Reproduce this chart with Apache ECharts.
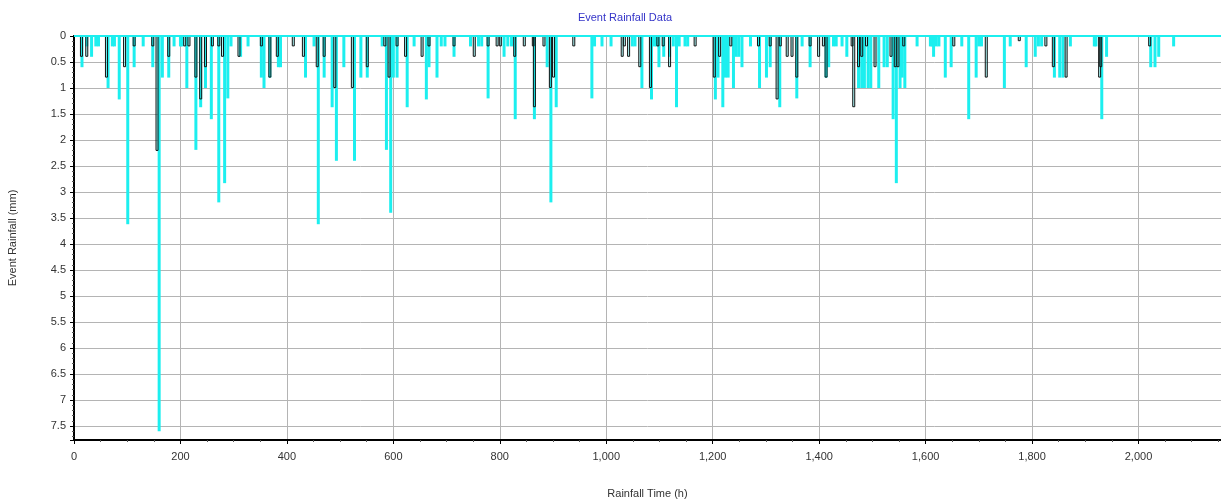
<!DOCTYPE html>
<html>
<head>
<meta charset="utf-8">
<title>Event Rainfall Data</title>
<script src="https://cdn.jsdelivr.net/npm/echarts@6/dist/echarts.min.js"></script>
<style>
  html, body { margin: 0; padding: 0; background: #fff; }
  #chart { width: 1221px; height: 503px; }
</style>
</head>
<body>
<div id="chart"></div>
<script>
// hourly rainfall depth (mm), cyan bars
const rainHours = [15, 24, 33, 41, 46, 64, 72, 76, 85, 101, 113, 130, 148, 160, 166, 178, 188, 200, 203, 212,
  229, 238, 247, 258, 272, 283, 289, 295, 313, 327, 352, 357, 368, 384, 388, 435, 451, 459, 470, 485,
  493, 507, 527, 539, 551, 579, 587, 595, 600, 607, 626, 639, 662, 667, 682, 690, 697, 714, 745, 760,
  766, 778, 808, 815, 822, 829, 865, 889, 896, 906, 973, 978, 992, 1009, 1049, 1054, 1067, 1085, 1090, 1094,
  1099, 1108, 1119, 1126, 1132, 1137, 1148, 1153, 1205, 1210, 1219, 1224, 1229, 1239, 1244, 1249, 1255, 1271, 1288, 1301,
  1308, 1326, 1358, 1368, 1383, 1413, 1418, 1427, 1432, 1443, 1452, 1474, 1480, 1485, 1492, 1497, 1512, 1522, 1528, 1539,
  1545, 1552, 1556, 1561, 1584, 1609, 1612, 1615, 1620, 1625, 1637, 1648, 1668, 1681, 1695, 1700, 1705, 1748, 1759, 1789,
  1806, 1812, 1818, 1842, 1852, 1858, 1872, 1917, 1920, 1931, 1940, 2023, 2031, 2038, 2066];
const rainDepth = [0.6, 0.2, 0.4, 0.2, 0.2, 1.0, 0.2, 0.2, 1.22, 3.62, 0.6, 0.2, 0.6, 7.6, 0.8, 0.8, 0.2, 0.2, 0.2, 1.0,
  2.19, 1.37, 1.0, 1.6, 3.2, 2.83, 1.2, 0.2, 0.4, 0.2, 0.8, 1.0, 0.8, 0.6, 0.6, 0.8, 0.2, 3.62, 0.8, 1.37,
  2.4, 0.6, 2.4, 0.8, 0.8, 0.2, 2.19, 3.4, 0.8, 0.8, 1.37, 0.2, 1.22, 0.6, 0.8, 0.2, 0.2, 0.4, 0.2, 0.2,
  0.2, 1.2, 0.4, 0.2, 0.2, 1.6, 1.6, 0.6, 3.2, 1.37, 1.2, 0.2, 0.2, 0.2, 0.2, 0.2, 1.0, 1.22, 0.2, 0.2,
  0.6, 0.4, 0.4, 0.2, 1.37, 0.2, 0.2, 0.2, 1.22, 0.8, 1.37, 0.8, 0.8, 1.0, 0.4, 0.4, 0.6, 0.2, 1.0, 0.8,
  0.6, 1.37, 1.2, 0.2, 0.6, 0.8, 0.6, 0.2, 0.2, 0.2, 0.4, 1.0, 1.0, 1.0, 1.0, 1.0, 1.0, 0.6, 0.6, 1.6,
  2.83, 1.0, 0.8, 1.0, 0.2, 0.2, 0.2, 0.4, 0.2, 0.2, 0.8, 0.6, 0.2, 1.6, 0.8, 0.2, 0.2, 1.0, 0.2, 0.6,
  0.4, 0.2, 0.2, 0.8, 0.8, 0.8, 0.2, 0.2, 0.2, 1.6, 0.4, 0.6, 0.6, 0.4, 0.2];

// outlined event bars
const eventHours = [14, 24, 61, 95, 113, 148, 156, 178, 208, 216, 229, 238, 247, 260, 272, 279, 310, 352, 368, 382,
  412, 431, 457, 470, 490, 523, 551, 584, 592, 607, 623, 654, 667, 714, 752, 778, 795, 801, 828, 846,
  863, 865, 883, 895, 901, 939, 1030, 1034, 1042, 1063, 1083, 1097, 1107, 1119, 1167, 1203, 1213, 1234, 1286, 1308,
  1321, 1327, 1340, 1349, 1358, 1383, 1399, 1408, 1413, 1462, 1465, 1474, 1480, 1489, 1505, 1535, 1543, 1548, 1559, 1653,
  1714, 1776, 1826, 1840, 1864, 1927, 1929, 2021];
const eventDepth = [0.4, 0.4, 0.8, 0.6, 0.2, 0.2, 2.21, 0.4, 0.2, 0.2, 0.8, 1.22, 0.6, 0.2, 0.2, 0.4, 0.4, 0.2, 0.8, 0.4,
  0.2, 0.4, 0.6, 0.4, 1.0, 1.0, 0.6, 0.2, 0.8, 0.2, 0.4, 0.4, 0.2, 0.2, 0.4, 0.2, 0.2, 0.2, 0.4, 0.2,
  0.2, 1.37, 0.2, 1.0, 0.8, 0.2, 0.4, 0.2, 0.4, 0.6, 1.0, 0.2, 0.2, 0.6, 0.2, 0.8, 0.4, 0.2, 0.2, 0.2,
  1.22, 0.2, 0.4, 0.4, 0.8, 0.2, 0.4, 0.2, 0.8, 0.2, 1.37, 0.6, 0.4, 0.2, 0.6, 0.4, 0.6, 0.6, 0.2, 0.2,
  0.8, 0.1, 0.2, 0.6, 0.8, 0.8, 0.6, 0.2];

const xTicks = { min: 0, max: 2155, step: 200 };
const yTicks = { min: 0, max: 7.77, step: 0.5 };

function pairs(xs, ys) {
  return xs.map((x, i) => [x, ys[i]]);
}

const font = '"Liberation Sans", Arial, sans-serif';
const cyan = '#1cefef';

const chart = echarts.init(document.getElementById('chart'));

chart.setOption({
  animation: false,
  title: {
    text: 'Event Rainfall Data',
    left: 620,
    textAlign: 'center',
    top: 7,
    textStyle: { color: '#3434c8', fontSize: 11, fontWeight: 'normal', fontFamily: font }
  },
  grid: { left: 74, right: 0, top: 36, bottom: 63, outerBoundsMode: 'none', containLabel: false },
  xAxis: [{
    type: 'value',
    min: xTicks.min,
    max: xTicks.max,
    interval: xTicks.step,
    name: 'Rainfall Time (h)',
    nameLocation: 'middle',
    nameGap: 48,
    nameTextStyle: { color: '#333', fontSize: 11, fontFamily: font },
    axisLine: { show: true, onZero: false, lineStyle: { color: '#000', width: 2 } },
    axisTick: { show: true, length: 4, lineStyle: { color: '#000' } },
    minorTick: { show: true, splitNumber: 4, length: 2, lineStyle: { color: '#555' } },
    axisLabel: {
      color: '#333', fontSize: 11, fontFamily: font, margin: 11,
      showMaxLabel: false,
      formatter: (v) => v.toLocaleString('en-US')
    },
    splitLine: { show: true, lineStyle: { color: '#b4b4b4', width: 1 } }
  }, {
    // top frame line
    type: 'value',
    position: 'top',
    offset: 5,
    min: xTicks.min,
    max: xTicks.max,
    axisLine: { show: true, lineStyle: { color: '#000', width: 2 } },
    axisTick: { show: false },
    axisLabel: { show: false },
    splitLine: { show: false }
  }],
  yAxis: {
    type: 'value',
    inverse: true,
    min: yTicks.min,
    max: yTicks.max,
    interval: yTicks.step,
    name: 'Event Rainfall (mm)',
    nameLocation: 'middle',
    nameGap: 56,
    nameRotate: 90,
    nameTextStyle: { color: '#333', fontSize: 11, fontFamily: font },
    axisLine: { show: true, lineStyle: { color: '#000', width: 2 } },
    axisTick: { show: true, length: 4, lineStyle: { color: '#000' } },
    minorTick: { show: true, splitNumber: 5, length: 2, lineStyle: { color: '#555' } },
    axisLabel: {
      color: '#333', fontSize: 11, fontFamily: font, margin: 8,
      showMaxLabel: false
    },
    splitLine: { show: true, lineStyle: { color: '#b4b4b4', width: 1 } }
  },
  series: [{
    name: 'Rainfall',
    type: 'bar',
    xAxisIndex: 0,
    barWidth: 3,
    barGap: '-100%',
    data: pairs(rainHours, rainDepth),
    itemStyle: { color: cyan },
    z: 2,
    markLine: {
      silent: true,
      symbol: 'none',
      label: { show: false },
      lineStyle: { color: cyan, width: 2, type: 'solid' },
      data: [{ yAxis: 0 }]
    }
  }, {
    name: 'Event',
    type: 'bar',
    xAxisIndex: 0,
    barWidth: 3,
    barGap: '-100%',
    data: pairs(eventHours, eventDepth),
    itemStyle: { color: 'rgba(28,239,239,0.35)', borderColor: '#111', borderWidth: 1 },
    z: 3
  }]
});
</script>
</body>
</html>
